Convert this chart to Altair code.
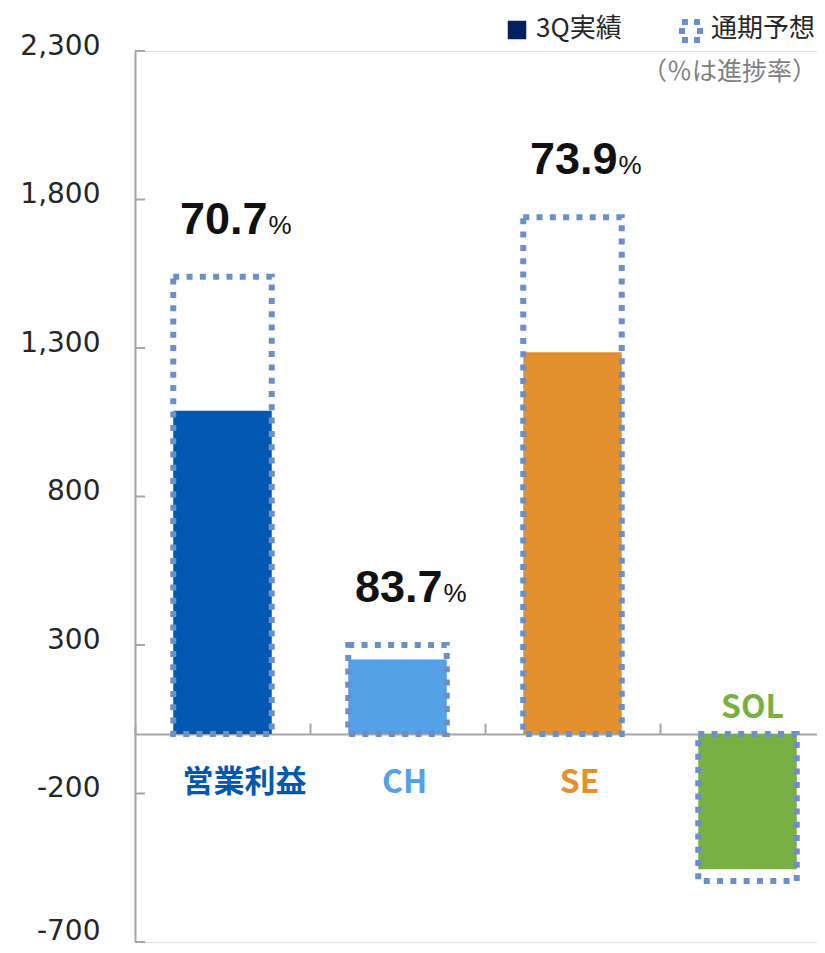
import altair as alt
import pandas as pd

# ---- data ----
categories = ["営業利益", "CH", "SE", "SOL"]
actual = [1089, 251, 1286, -455]          # 3Q実績
forecast = [1540, 300, 1740, -495]        # 通期予想
progress = ["70.7", "83.7", "73.9", ""]   # 進捗率 (%)
bar_colors = ["#0058b0", "#55a1e8", "#e3902f", "#79b043"]
y_ticks = [-700, -200, 300, 800, 1300, 1800, 2300]
legend_labels = ["3Q実績", "通期予想"]
note_text = "（％は進捗率）"

df = pd.DataFrame({
    "category": categories,
    "actual": actual,
    "forecast": forecast,
    "pct": progress,
})
tick_df = pd.DataFrame({"v": y_ticks})

# ---- layout ----
Y_DOMAIN = [y_ticks[0], y_ticks[-1]]
PAD_L, PAD_T, PAD_B = 127, 43, 3
PLOT_W, PLOT_H = 809 - PAD_L, 937 - PAD_T - PAD_B
ZERO_PX = PLOT_H * Y_DOMAIN[1] / (Y_DOMAIN[1] - Y_DOMAIN[0])
BAND = 175
BAR_W = 98.5
AX_GRAY = "#a6a6a6"
BOX_BLUE = "#6b90c9"

xscale = alt.Scale(domain=categories, range=[0, BAND * len(categories)],
                   paddingInner=0, paddingOuter=0)
yscale = alt.Scale(domain=Y_DOMAIN, nice=False, zero=False)
cscale = alt.Scale(domain=categories, range=bar_colors)

xaxis = alt.Axis(orient="top", offset=-ZERO_PX, labels=False, title=None,
                 domainColor=AX_GRAY, domainWidth=2, ticks=True, tickSize=11,
                 tickColor=AX_GRAY, tickWidth=2, bandPosition=0, grid=False)
yaxis = alt.Axis(orient="left", values=y_ticks, title=None, grid=False,
                 ticks=False, tickSize=0, domainColor=AX_GRAY, domainWidth=2,
                 labelFont="DejaVu Sans", labelFontSize=28, labelColor="#262626",
                 labelPadding=35, labelBaseline="middle",
                 labelOffset=alt.condition(f"datum.value == {y_ticks[0]}", alt.value(-11), alt.value(-5)),
                 labelExpr="datum.value < 0 ? '-' + format(-datum.value, ',') : format(datum.value, ',')")

X = alt.X("category:N", scale=xscale, axis=xaxis, title=None)
base = alt.Chart(df)

bars = base.mark_bar(size=BAR_W).encode(
    x=X,
    y=alt.Y("actual:Q", scale=yscale, axis=yaxis, title=None),
    color=alt.Color("category:N", scale=cscale, legend=None),
)

boxes = base.mark_bar(size=BAR_W, filled=False, stroke=BOX_BLUE, strokeWidth=6,
                      strokeDash=[6, 7.3]).encode(
    x=X,
    y=alt.Y("forecast:Q", scale=yscale, axis=yaxis, title=None),
)

yticks = alt.Chart(tick_df).mark_rule(color=AX_GRAY, strokeWidth=2).encode(
    y=alt.Y("v:Q", scale=yscale, axis=yaxis, title=None),
    x=alt.value(0), x2=alt.value(10),
)

pct_num = base.transform_filter("datum.pct != ''").mark_text(
    align="right", baseline="alphabetic", dx=45, dy=-43,
    font="Liberation Sans", fontWeight="bold", fontSize=45, color="#111111",
).encode(
    x=X, y=alt.Y("forecast:Q", scale=yscale, axis=yaxis, title=None),
    text="pct:N",
)
pct_sign = base.transform_filter("datum.pct != ''").mark_text(
    align="left", baseline="alphabetic", dx=46, dy=-43,
    font="Liberation Sans", fontSize=26, color="#111111",
).encode(
    x=X, y=alt.Y("forecast:Q", scale=yscale, axis=yaxis, title=None),
    text=alt.value("%"),
)


def cat_label(filter_expr, dx, dy, size):
    return base.transform_filter(filter_expr).transform_calculate(zero="0").mark_text(
        align="center", baseline="middle", dx=dx, dy=dy,
        font="Noto Sans CJK JP", fontWeight="bold", fontSize=size,
    ).encode(
        x=X, y=alt.Y("zero:Q", scale=yscale, axis=yaxis, title=None),
        text="category:N",
        color=alt.Color("category:N", scale=cscale, legend=None),
    )


cat_total = cat_label(f"datum.category == '{categories[0]}'", 22, 49, 31)
cat_pos = cat_label(f"datum.actual >= 0 && datum.category != '{categories[0]}'", 7, 49, 32)
cat_neg = cat_label("datum.actual < 0", 5, -26, 32)

# ---- manual legend (top right) ----
leg_df = pd.DataFrame({"label": legend_labels})
leg_sq = alt.Chart(leg_df).transform_filter(f"datum.label == '{legend_labels[0]}'").mark_square(
    size=342, filled=True, color="#002060", opacity=1,
).encode(x=alt.value(382), y=alt.value(-21))
leg_t1 = alt.Chart(leg_df).transform_filter(f"datum.label == '{legend_labels[0]}'").mark_text(
    align="left", baseline="middle", font="Noto Sans CJK JP", fontSize=26, color="#262626",
).encode(x=alt.value(401), y=alt.value(-22), text="label:N")
leg_box = alt.Chart(leg_df).transform_filter(f"datum.label == '{legend_labels[1]}'").mark_square(
    size=324, filled=False, stroke=BOX_BLUE, strokeWidth=6, strokeDash=[6, 6], opacity=1,
).encode(x=alt.value(556), y=alt.value(-20))
leg_t2 = alt.Chart(leg_df).transform_filter(f"datum.label == '{legend_labels[1]}'").mark_text(
    align="left", baseline="middle", font="Noto Sans CJK JP", fontSize=26, color="#262626",
).encode(x=alt.value(576), y=alt.value(-22), text="label:N")
note = alt.Chart(pd.DataFrame({"t": [note_text]})).mark_text(
    align="right", baseline="middle", font="Noto Sans CJK JP", fontSize=25, color="#7f7f7f",
).encode(x=alt.value(PLOT_W), y=alt.value(21), text="t:N")

chart = alt.layer(
    bars, boxes, yticks, pct_num, pct_sign, cat_total, cat_pos, cat_neg,
    leg_sq, leg_t1, leg_box, leg_t2, note,
).properties(
    width=PLOT_W, height=PLOT_H,
    padding={"left": PAD_L, "top": PAD_T, "right": 0, "bottom": PAD_B},
    autosize=alt.AutoSizeParams(type="none"),
).configure_view(stroke=None).configure(background="white")

chart.save("out.html", embed_options={"renderer": "svg", "actions": False})
